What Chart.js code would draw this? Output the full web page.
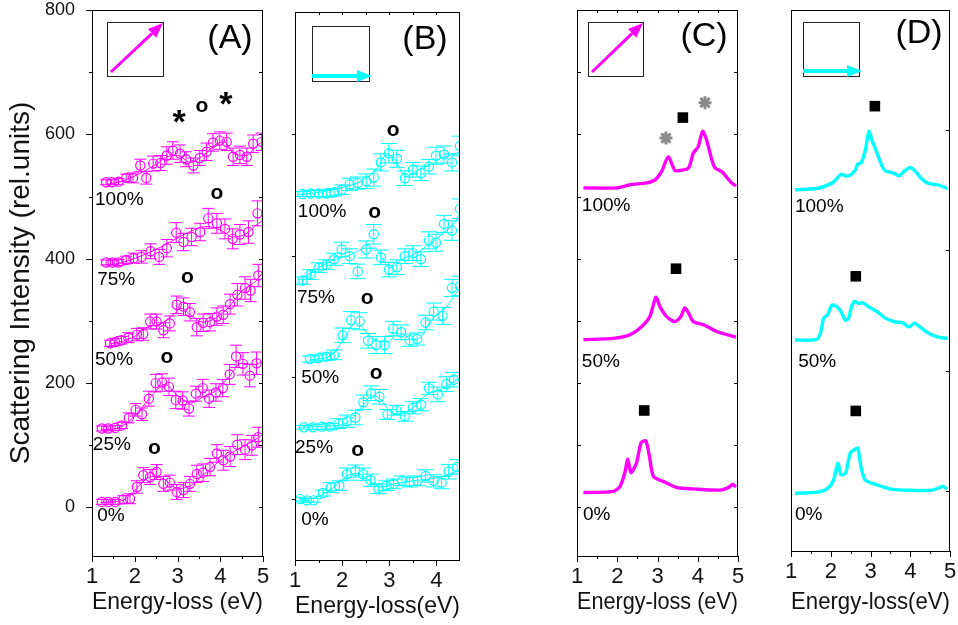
<!DOCTYPE html>
<html lang="en">
<head>
<meta charset="UTF-8">
<title>Scattering intensity panels</title>
<script src="https://cdn.jsdelivr.net/npm/chart.js@4.4.1/dist/chart.umd.min.js"></script>
<style>
  body { margin: 0; background: #fff; }
  canvas { position: absolute; top: 0; }
</style>
</head>
<body>
<canvas id="pA" width="275" height="625" style="left:0px"></canvas>
<canvas id="pB" width="190" height="625" style="left:280px"></canvas>
<canvas id="pC" width="190" height="625" style="left:560px"></canvas>
<canvas id="pD" width="188" height="625" style="left:770px"></canvas>
<script>
const MAG = '#ff00ff';
const CYA = '#00ffff';

// ---- panel A (measured, magenta) ----
const a0X = [1.23,1.38,1.54,1.73,1.89,2.05,2.20,2.36,2.51,2.67,2.82,2.98,3.14,3.29,3.45,3.60,3.76,3.92,4.07,4.23,4.40,4.58,4.74,4.89];
const a0Y = [9,9,9,13,14,33,52,49,57,38,40,25,28,38,54,56,65,87,76,82,101,93,100,113];
const a0E = [4,4,4,6,8,10,12,12,12,12,12,12,12,12,14,14,14,14,16,16,16,16,16,16];
const a25X = [1.23,1.38,1.54,1.70,1.86,2.02,2.17,2.33,2.49,2.64,2.80,2.96,3.12,3.27,3.43,3.59,3.74,3.90,4.06,4.22,4.37,4.53,4.69,4.85];
const a25Y = [127,127,128,132,144,157,150,175,200,201,194,173,172,159,183,192,175,185,192,214,243,231,212,232];
const a25E = [4,4,4,5,8,10,10,12,14,14,14,14,14,12,12,14,14,14,14,16,18,18,18,18];
const a50X = [1.42,1.54,1.69,1.85,2.05,2.20,2.36,2.51,2.67,2.82,2.98,3.14,3.29,3.45,3.60,3.76,3.92,4.07,4.23,4.40,4.58,4.71,4.89];
const a50Y = [264,266,269,273,278,279,299,299,285,296,326,323,314,290,297,298,307,310,327,342,353,349,373];
const a50E = [5,6,6,8,10,10,12,12,12,12,14,14,14,14,14,14,14,14,16,18,18,18,18];
const a75X = [1.33,1.48,1.62,1.80,1.97,2.16,2.37,2.57,2.75,2.97,3.14,3.33,3.53,3.72,3.92,4.11,4.29,4.46,4.66,4.87];
const a75Y = [394,394,394,398,401,403,412,403,417,442,427,435,443,465,457,448,432,439,443,473];
const a75E = [4,4,5,6,8,10,12,12,14,16,14,14,14,16,16,16,16,16,18,20];
const a100X = [1.33,1.46,1.62,1.80,1.96,2.13,2.27,2.43,2.60,2.75,2.89,3.06,3.20,3.37,3.52,3.68,3.83,3.99,4.15,4.30,4.46,4.62,4.77,4.97];
const a100Y = [523,523,524,530,530,550,530,553,554,566,574,569,560,550,562,572,587,590,588,564,567,564,585,588];
const a100E = [4,4,5,6,8,10,10,12,12,14,14,14,12,12,12,14,14,14,14,14,14,14,14,14];
// fit curves of panel A
const a0FX = [1.2,1.5,1.8,2.1,2.4,2.7,3.0,3.3,3.6,3.9,4.2,4.5,4.8,5.0];
const a0FY = [8,9,14,35,50,45,30,35,52,70,85,97,108,118];
const a25FX = [1.2,1.5,1.8,2.1,2.4,2.7,3.0,3.3,3.6,3.9,4.2,4.5,4.8,5.0];
const a25FY = [125,126,135,155,180,198,180,168,178,188,210,232,230,235];
const a50FX = [1.4,1.7,2.0,2.3,2.6,2.9,3.1,3.3,3.6,3.9,4.2,4.5,4.8,5.0];
const a50FY = [263,267,275,290,295,310,320,310,298,305,322,348,362,378];
const a75FX = [1.3,1.6,1.9,2.2,2.5,2.8,3.1,3.4,3.7,4.0,4.3,4.6,4.8,5.0];
const a75FY = [390,392,398,406,415,426,437,447,452,446,435,440,452,462];
const a100FX = [1.3,1.6,1.9,2.2,2.5,2.8,3.0,3.3,3.6,3.9,4.1,4.3,4.6,4.8,5.0];
const a100FY = [519,523,530,540,552,565,566,555,566,584,588,570,566,578,590];

// ---- panel B (measured, cyan) ----
const b0X = [1.11,1.25,1.39,1.59,1.76,1.94,2.10,2.28,2.44,2.60,2.77,2.94,3.09,3.27,3.43,3.60,3.77,3.94,4.11,4.26,4.44];
const b0Y = [0,-2,-2,10,19,22,41,46,41,31,17,22,25,30,28,30,38,30,27,45,53];
const b0E = [3,3,3,5,8,8,10,10,10,10,8,8,8,8,8,8,10,10,10,12,12];
const b25X = [1.19,1.38,1.57,1.74,1.92,2.10,2.28,2.45,2.61,2.79,2.96,3.15,3.33,3.50,3.67,3.84,4.03,4.21,4.37];
const b25Y = [118,118,119,119,124,128,134,159,174,168,139,146,136,150,155,182,172,189,196];
const b25E = [3,4,4,5,8,10,12,12,12,12,8,8,8,10,10,10,12,12,12];
const b50X = [1.32,1.50,1.67,1.83,2.01,2.19,2.37,2.55,2.72,2.90,3.08,3.25,3.43,3.59,3.77,3.94,4.13,4.33,4.50];
const b50Y = [230,232,234,237,269,294,292,260,253,253,280,274,261,263,290,308,301,347,350];
const b50E = [5,5,6,8,12,14,14,12,14,14,12,12,10,10,12,14,14,14,16];
const b75X = [1.16,1.33,1.50,1.67,1.83,1.99,2.16,2.33,2.51,2.67,2.82,2.99,3.16,3.33,3.50,3.67,3.84,3.99,4.16,4.33,4.50];
const b75Y = [359,369,380,385,394,410,399,374,410,435,397,377,381,399,404,394,425,421,452,441,477];
const b75E = [6,8,8,8,10,12,12,12,14,16,12,12,12,12,12,12,14,14,14,16,16];
const b100X = [1.16,1.33,1.50,1.67,1.83,1.99,2.16,2.33,2.51,2.67,2.82,2.99,3.16,3.33,3.50,3.67,3.84,3.99,4.16,4.33,4.50];
const b100Y = [501,502,502,502,504,508,517,519,522,528,553,568,559,527,541,535,546,564,566,553,580];
const b100E = [4,5,5,6,6,8,10,10,12,14,14,16,14,12,12,12,12,14,14,14,16];
const b0FX = [1.1,1.4,1.8,2.1,2.3,2.6,2.8,3.1,3.5,4.0,4.3,4.5];
const b0FY = [0,2,18,38,42,30,20,25,30,35,42,48];
const b25FX = [1.1,1.7,2.1,2.4,2.65,2.8,3.0,3.2,3.5,3.8,4.1,4.5];
const b25FY = [118,120,125,150,170,165,145,140,150,172,180,200];
const b50FX = [1.3,1.8,2.05,2.3,2.5,2.7,2.95,3.2,3.5,3.65,3.9,4.2,4.5];
const b50FY = [228,238,265,290,275,262,258,272,262,265,295,315,348];
const b75FX = [1.1,1.4,1.8,2.2,2.5,2.7,2.85,3.0,3.3,3.6,3.9,4.2,4.4,4.5];
const b75FY = [360,375,392,402,412,412,395,380,395,405,422,440,455,470];
const b100FX = [1.1,1.6,2.0,2.4,2.7,2.95,3.1,3.35,3.6,3.9,4.1,4.3,4.5];
const b100FY = [500,505,512,522,540,565,560,530,540,550,560,565,570];

// ---- panel C (calculated, magenta) ----
const c0X = [1.16,1.90,2.07,2.19,2.26,2.34,2.48,2.59,2.71,2.80,2.90,3.14,3.48,3.89,4.55,4.76,4.87,4.95];
const c0Y = [24,26,34,56,78,56,72,104,107,82,50,42,32,30,28,32,37,33];
const c50X = [1.16,1.90,2.32,2.61,2.81,2.96,3.06,3.23,3.43,3.58,3.68,3.77,3.89,4.14,4.47,4.95];
const c50Y = [270,272,278,291,307,338,323,307,299,307,321,313,299,294,283,274];
const c100X = [1.16,1.99,2.32,2.73,2.94,3.10,3.27,3.43,3.56,3.77,3.89,4.01,4.12,4.22,4.35,4.43,4.60,4.72,4.84,4.95];
const c100Y = [514,514,519,522,527,540,564,542,542,546,570,580,605,591,559,546,540,531,522,517];
const cSqX = [3.63,3.46,2.67];
const cSqY = [627,384,156];
const cStarX = [3.21,4.18];
const cStarY = [594,651];

// ---- panel D (calculated, cyan) ----
const d0X = [1.10,1.65,1.90,2.07,2.18,2.26,2.37,2.49,2.58,2.68,2.76,2.87,3.17,3.51,4.01,4.52,4.73,4.82,4.92];
const d0Y = [-4,-2,3,18,46,27,29,63,68,71,40,18,10,3,1,1,5,8,3];
const d50X = [1.10,1.65,1.75,1.82,1.92,2.03,2.16,2.26,2.37,2.45,2.52,2.60,2.70,2.81,2.96,3.17,3.38,3.63,3.80,3.97,4.11,4.22,4.44,4.69,4.94];
const d50Y = [251,252,265,287,293,309,306,298,284,287,306,315,312,313,306,298,287,281,280,273,279,274,263,256,254];
const d100X = [1.10,1.65,2.03,2.16,2.26,2.37,2.49,2.62,2.68,2.76,2.87,2.96,3.04,3.17,3.30,3.38,3.51,3.63,3.72,3.84,3.99,4.14,4.27,4.44,4.69,4.94];
const d100Y = [501,503,512,520,527,524,525,534,544,545,567,598,583,561,539,532,530,527,524,531,538,531,520,512,509,503];
const dSqX = [3.11,2.63,2.63];
const dSqY = [640,357,133];

// ---- ticks ----
const xMajor5 = [1,2,3,4,5];
const xMinor5 = [1.5,2.5,3.5,4.5];
const xMajor4 = [1,2,3,4];
const xMinor4 = [1.5,2.5,3.5];
const xTopB = [1.5,2,2.5,3,3.5,4];
const xTopC = [1.5,2,2.5,3,3.5,4,4.5];
const aYMajor = [0,200,400,600,800];
const aYMinor = [100,300,500,700];
const aYRight = [0,100,200,300,400,500,600,700];
const bdYTicks = [0,200,400,600];

const pts = (xs, ys) => xs.map((x, i) => ({x: x, y: ys[i]}));

function measured(xs, ys, es, color, cap) {
  return {data: pts(xs, ys), errs: es, capW: cap, showLine: false,
    pointStyle: 'circle', pointRadius: 4.6, borderColor: color,
    backgroundColor: 'rgba(0,0,0,0)', borderWidth: 1.2};
}
function fit(xs, ys, color) {
  return {data: pts(xs, ys), showLine: true, pointRadius: 0, borderColor: color,
    borderWidth: 1, tension: 0.4, cubicInterpolationMode: 'monotone', fill: false};
}
function spectrum(xs, ys, color) {
  return {data: pts(xs, ys), showLine: true, pointRadius: 0, borderColor: color,
    borderWidth: 3.4, tension: 0.25, fill: false};
}
function squares(xs, ys) {
  return {data: pts(xs, ys), showLine: false, pointStyle: 'rect', pointRadius: 7.5,
    backgroundColor: '#000', borderColor: '#000', borderWidth: 0};
}

// decorations per panel (frame ticks, inset box, letter, labels)
const extras = {
  pA: {
    ticks: [['x','bottom',xMajor5,6,true],['x','bottom',xMinor5,3,true],
            ['y','left',aYMajor,6,true],['y','left',aYMinor,3,true],['y','right',aYRight,4,false]],
    inset: {dx: 15, dy: 12, w: 56, h: 54, arrow: 'diag', color: MAG},
    letter: {text: '(A)', dx: -33, dy: 29},
    notes: [
      ['100%',1.07,495,'19px',''],['75%',1.12,366,'19px',''],['50%',1.07,238,'19px',''],
      ['25%',1.02,101,'19px',''],['0%',1.12,-14,'19px',''],
      ['o',3.57,645,'bold 21px','c'],['o',3.92,506,'bold 21px','c'],['o',3.23,370,'bold 21px','c'],
      ['o',2.75,242,'bold 21px','c'],['o',2.46,96,'bold 21px','c'],
      ['*',3.04,631,'bold 34px','s'],['*',4.13,661,'bold 34px','s']
    ]
  },
  pB: {
    ticks: [['x','bottom',xMajor4,6,true],['x','bottom',xMinor4,3,true],
            ['x','top',xTopB,3,false],['y','left',bdYTicks,3,true]],
    inset: {dx: 17, dy: 14, w: 57, h: 55, arrow: 'horiz', color: CYA},
    letter: {text: '(B)', dx: -35, dy: 28},
    notes: [
      ['100%',1.06,472,'19px',''],['75%',1.04,330,'19px',''],['50%',1.13,200,'19px',''],
      ['25%',1.0,85,'19px',''],['0%',1.13,-34,'19px',''],
      ['o',3.08,606,'bold 21px','c'],['o',2.69,472,'bold 21px','c'],['o',2.53,330,'bold 21px','c'],
      ['o',2.72,206,'bold 21px','c'],['o',2.33,80,'bold 21px','c']
    ]
  },
  pC: {
    ticks: [['x','bottom',xMajor5,6,true],['x','bottom',xMinor5,3,true],['x','top',xTopC,3,false],
            ['y','left',aYRight,4,false],['y','right',aYRight,4,false]],
    inset: {dx: 11, dy: 12, w: 55, h: 54, arrow: 'diag', color: MAG},
    letter: {text: '(C)', dx: -34, dy: 27},
    notes: [['100%',1.12,485,'19px',''],['50%',1.12,235,'19px',''],['0%',1.15,-11,'19px','']]
  },
  pD: {
    ticks: [['x','bottom',xMajor5,6,true],['x','bottom',xMinor5,3,true],['y','right',bdYTicks,4,false]],
    inset: {dx: 12, dy: 12, w: 56, h: 54, arrow: 'horiz', color: CYA},
    letter: {text: '(D)', dx: -31, dy: 24},
    notes: [['100%',1.10,472,'19px',''],['50%',1.18,214,'19px',''],['0%',1.10,-40,'19px','']]
  }
};

const FONT = '"Liberation Sans", Arial, sans-serif';
Chart.defaults.font.family = FONT;
Chart.defaults.color = '#111';

const decor = {
  id: 'decor',
  beforeDatasetsDraw(chart) {
    const {ctx, chartArea: a, scales} = chart;
    ctx.save();
    ctx.beginPath(); ctx.rect(a.left, a.top, a.width, a.height); ctx.clip();
    chart.data.datasets.forEach(ds => {
      if (!ds.errs) return;
      ctx.strokeStyle = ds.borderColor; ctx.lineWidth = 1;
      ds.data.forEach((p, j) => {
        const x = scales.x.getPixelForValue(p.x);
        const y1 = scales.y.getPixelForValue(p.y - ds.errs[j]);
        const y2 = scales.y.getPixelForValue(p.y + ds.errs[j]);
        const w = ds.capW;
        ctx.beginPath();
        ctx.moveTo(x, y1); ctx.lineTo(x, y2);
        ctx.moveTo(x - w, y1); ctx.lineTo(x + w, y1);
        ctx.moveTo(x - w, y2); ctx.lineTo(x + w, y2);
        ctx.stroke();
      });
    });
    ctx.restore();
  },
  afterDraw(chart) {
    const ex = extras[chart.canvas.id];
    const {ctx, chartArea: a, scales} = chart;
    ctx.save();
    // frame
    ctx.strokeStyle = '#000'; ctx.lineWidth = 1;
    ctx.strokeRect(a.left + 0.5, a.top + 0.5, a.width - 1, a.height);
    // tick marks
    ex.ticks.forEach(([ax, side, vals, len, out]) => {
      const s = scales[ax];
      ctx.beginPath();
      vals.forEach(v => {
        const p = Math.round(s.getPixelForValue(v)) + 0.5;
        if (side === 'bottom') { ctx.moveTo(p, a.bottom); ctx.lineTo(p, a.bottom + (out ? len : -len)); }
        if (side === 'top') { ctx.moveTo(p, a.top); ctx.lineTo(p, a.top + (out ? -len : len)); }
        if (side === 'left') { ctx.moveTo(a.left, p); ctx.lineTo(a.left + (out ? -len : len), p); }
        if (side === 'right') { ctx.moveTo(a.right, p); ctx.lineTo(a.right + (out ? len : -len), p); }
      });
      ctx.stroke();
    });
    // inset with polarisation arrow
    const ins = ex.inset;
    const bx = a.left + ins.dx, by = a.top + ins.dy;
    ctx.strokeStyle = '#222'; ctx.lineWidth = 1;
    ctx.strokeRect(bx + 0.5, by + 0.5, ins.w, ins.h);
    ctx.strokeStyle = ins.color; ctx.fillStyle = ins.color;
    let x0, y0, x1, y1;
    if (ins.arrow === 'diag') { x0 = bx + 4; y0 = by + ins.h - 4; x1 = bx + ins.w; y1 = by + 1; ctx.lineWidth = 3; }
    else { x0 = bx; y0 = by + ins.h - 5; x1 = bx + ins.w + 3; y1 = y0; ctx.lineWidth = 4; }
    const ang = Math.atan2(y1 - y0, x1 - x0), hl = 15, hw = 6;
    const hx = x1 - hl * Math.cos(ang), hy = y1 - hl * Math.sin(ang);
    ctx.beginPath(); ctx.moveTo(x0, y0); ctx.lineTo(hx, hy); ctx.stroke();
    ctx.beginPath();
    ctx.moveTo(x1, y1);
    ctx.lineTo(hx + hw * Math.sin(ang), hy - hw * Math.cos(ang));
    ctx.lineTo(hx - hw * Math.sin(ang), hy + hw * Math.cos(ang));
    ctx.closePath(); ctx.fill();
    // panel letter
    ctx.fillStyle = '#000';
    ctx.font = '34px ' + FONT;
    ctx.textAlign = 'center'; ctx.textBaseline = 'middle';
    ctx.fillText(ex.letter.text, a.right + ex.letter.dx, a.top + ex.letter.dy);
    // labels and peak markers
    ex.notes.forEach(([t, x, y, f, kind]) => {
      ctx.font = f + ' ' + FONT;
      ctx.textAlign = kind ? 'center' : 'left';
      const px = scales.x.getPixelForValue(x);
      const py = scales.y.getPixelForValue(y) + (kind === 's' ? 9 : 0);
      ctx.fillText(t, px, py);
    });
    ctx.restore();
  }
};

function panel(id, o) {
  new Chart(document.getElementById(id), {
    type: 'scatter',
    data: {datasets: o.datasets},
    plugins: [decor],
    options: {
      responsive: false, animation: false, events: [],
      layout: {padding: {top: o.pad[0], right: o.pad[1], bottom: 0, left: 0}},
      plugins: {legend: {display: false}, tooltip: {enabled: false}},
      scales: {
        x: {
          type: 'linear', min: o.xr[0], max: o.xr[1],
          afterBuildTicks: s => { s.ticks = o.xt.map(v => ({value: v})); },
          afterFit: s => { s.height = o.xh; s.paddingLeft = 0; s.paddingRight = 0; },
          grid: {display: false}, border: {display: false},
          ticks: {font: {size: 22, lineHeight: 1}, color: '#111', padding: 2, maxRotation: 0, autoSkip: false},
          title: {display: true, text: o.xTitle, color: '#111', font: {size: 24}, padding: {top: 0, bottom: o.tb}}
        },
        y: {
          type: 'linear', min: o.yr[0], max: o.yr[1],
          afterBuildTicks: s => { s.ticks = o.yt.map(v => ({value: v})); },
          afterFit: s => { s.width = o.yw; s.paddingTop = 0; s.paddingBottom = 0; },
          grid: {display: false}, border: {display: false},
          ticks: {display: o.yLabels, font: {size: 18, lineHeight: 1}, color: '#111', padding: 9},
          title: {display: !!o.yTitle, text: o.yTitle || '', color: '#111', font: {size: 28}, padding: {top: 4, bottom: 0}}
        }
      }
    }
  });
}

panel('pA', {
  xr: [1, 5], yr: [-78, 800], xt: xMajor5, yt: aYMajor, yLabels: true,
  yw: 92, xh: 69, pad: [10, 12], tb: 8,
  xTitle: 'Energy-loss (eV)', yTitle: 'Scattering Intensity (rel.units)',
  datasets: [
    measured(a100X, a100Y, a100E, MAG, 6), measured(a75X, a75Y, a75E, MAG, 6),
    measured(a50X, a50Y, a50E, MAG, 6), measured(a25X, a25Y, a25E, MAG, 6),
    measured(a0X, a0Y, a0E, MAG, 6),
    fit(a100FX, a100FY, MAG), fit(a75FX, a75FY, MAG), fit(a50FX, a50FY, MAG),
    fit(a25FX, a25FY, MAG), fit(a0FX, a0FY, MAG)
  ]
});

panel('pB', {
  xr: [1, 4.5], yr: [-100, 800], xt: xMajor4, yt: bdYTicks, yLabels: false,
  yw: 15, xh: 65, pad: [12, 10], tb: 4,
  xTitle: 'Energy-loss(eV)',
  datasets: [
    measured(b100X, b100Y, b100E, CYA, 8), measured(b75X, b75Y, b75E, CYA, 8),
    measured(b50X, b50Y, b50E, CYA, 8), measured(b25X, b25Y, b25E, CYA, 8),
    measured(b0X, b0Y, b0E, CYA, 8),
    fit(b100FX, b100FY, CYA), fit(b75FX, b75FY, CYA), fit(b50FX, b50FY, CYA),
    fit(b25FX, b25FY, CYA), fit(b0FX, b0FY, CYA)
  ]
});

panel('pC', {
  xr: [1, 5], yr: [-78, 800], xt: xMajor5, yt: aYMajor, yLabels: false,
  yw: 17, xh: 69, pad: [10, 12], tb: 8,
  xTitle: 'Energy-loss (eV)',
  datasets: [
    squares(cSqX, cSqY),
    {data: pts(cStarX, cStarY), showLine: false, pointStyle: 'star', pointRadius: 6.5,
     borderColor: '#8a8a8a', backgroundColor: '#8a8a8a', borderWidth: 3},
    spectrum(c100X, c100Y, MAG), spectrum(c50X, c50Y, MAG), spectrum(c0X, c0Y, MAG)
  ]
});

panel('pD', {
  xr: [1, 5], yr: [-100, 800], xt: xMajor5, yt: bdYTicks, yLabels: false,
  yw: 21, xh: 74, pad: [10, 8], tb: 8,
  xTitle: 'Energy-loss(eV)',
  datasets: [
    squares(dSqX, dSqY),
    spectrum(d100X, d100Y, CYA), spectrum(d50X, d50Y, CYA), spectrum(d0X, d0Y, CYA)
  ]
});
</script>
</body>
</html>
